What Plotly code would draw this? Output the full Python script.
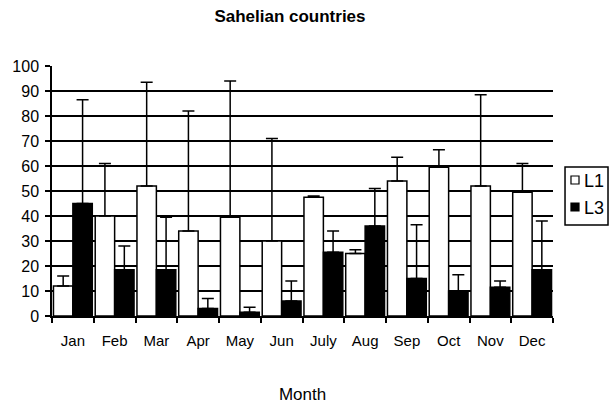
import plotly.graph_objects as go

months = ["Jan", "Feb", "Mar", "Apr", "May", "Jun", "July", "Aug", "Sep", "Oct", "Nov", "Dec"]
l1_values = [12, 40, 52, 34, 39.5, 30, 47.5, 25, 54, 59.5, 52, 49.5]
l1_upper = [16, 61, 93.5, 82, 94, 71, 48, 26.5, 63.5, 66.5, 88.5, 61]
l3_values = [45, 18.5, 18.5, 3, 1.5, 6, 25.5, 36, 15, 10, 11.5, 18.5]
l3_upper = [86.5, 28, 39.5, 7, 3.5, 14, 34, 51, 36.5, 16.5, 14, 38]
y_ticks = [0, 10, 20, 30, 40, 50, 60, 70, 80, 90, 100]
series_names = ["L1", "L3"]

l1_err = [u - v for u, v in zip(l1_upper, l1_values)]
l3_err = [u - v for u, v in zip(l3_upper, l3_values)]

font_family = "Arial, Liberation Sans, sans-serif"

fig = go.Figure()
fig.add_trace(go.Bar(
    x=months, y=l1_values, name=series_names[0],
    marker=dict(color="white", line=dict(color="black", width=1.5)),
    error_y=dict(type="data", array=l1_err, arrayminus=[0] * 12, symmetric=False,
                 color="black", thickness=1.5, width=6),
))
fig.add_trace(go.Bar(
    x=months, y=l3_values, name=series_names[1],
    marker=dict(color="black", line=dict(color="black", width=1.5)),
    error_y=dict(type="data", array=l3_err, arrayminus=[0] * 12, symmetric=False,
                 color="black", thickness=1.5, width=6),
))

# Manual legend (box with small square swatches), placed right of the plot
shapes = [
    dict(type="rect", xref="paper", yref="paper", x0=1.024, x1=1.1098, y0=0.364, y1=0.596,
         line=dict(color="black", width=1.5), fillcolor="white"),
    dict(type="rect", xref="paper", yref="paper", x0=1.0359, x1=1.0519, y0=0.528, y1=0.56,
         line=dict(color="black", width=1.2), fillcolor="white"),
    dict(type="rect", xref="paper", yref="paper", x0=1.0359, x1=1.0519, y0=0.42, y1=0.452,
         line=dict(color="black", width=1.2), fillcolor="black"),
]
annotations = [
    dict(text=series_names[0], xref="paper", yref="paper", x=1.0579, y=0.54, xanchor="left",
         yanchor="middle", showarrow=False, font=dict(size=18, family=font_family, color="black")),
    dict(text=series_names[1], xref="paper", yref="paper", x=1.0579, y=0.434, xanchor="left",
         yanchor="middle", showarrow=False, font=dict(size=18, family=font_family, color="black")),
]

fig.update_layout(
    width=610, height=406,
    margin=dict(l=52, r=57, t=66, b=90, autoexpand=False),
    paper_bgcolor="white", plot_bgcolor="white",
    font=dict(family=font_family, color="black", size=15),
    title=dict(text="<b>Sahelian countries</b>", xref="paper", x=0.475, xanchor="center",
               yref="container", y=0.96, yanchor="middle",
               font=dict(size=17, family=font_family, color="black")),
    barmode="group", bargap=0.07, bargroupgap=0,
    showlegend=False,
    shapes=shapes,
    annotations=annotations,
    xaxis=dict(
        title=dict(text="Month", standoff=40, font=dict(size=17)),
        showline=True, linecolor="black", linewidth=1.5,
        ticks="outside", tickson="boundaries", ticklen=5, tickcolor="black", tickwidth=1.5,
        showgrid=False, tickfont=dict(size=15), ticklabelstandoff=10,
    ),
    yaxis=dict(
        range=[0, 100], tickvals=y_ticks,
        showline=True, linecolor="black", linewidth=1.5,
        ticks="outside", ticklen=5, tickcolor="black", tickwidth=1.5,
        showgrid=True, gridcolor="black", gridwidth=1.5,
        zeroline=False, tickfont=dict(size=16), ticklabelstandoff=3,
    ),
)

# Remove the browser's default body margin so the figure fills the 610x406 window exactly
fig.write_html(
    "out.html",
    config={"displayModeBar": False},
    post_script="document.body.style.margin='0';document.body.style.overflow='hidden';",
)
